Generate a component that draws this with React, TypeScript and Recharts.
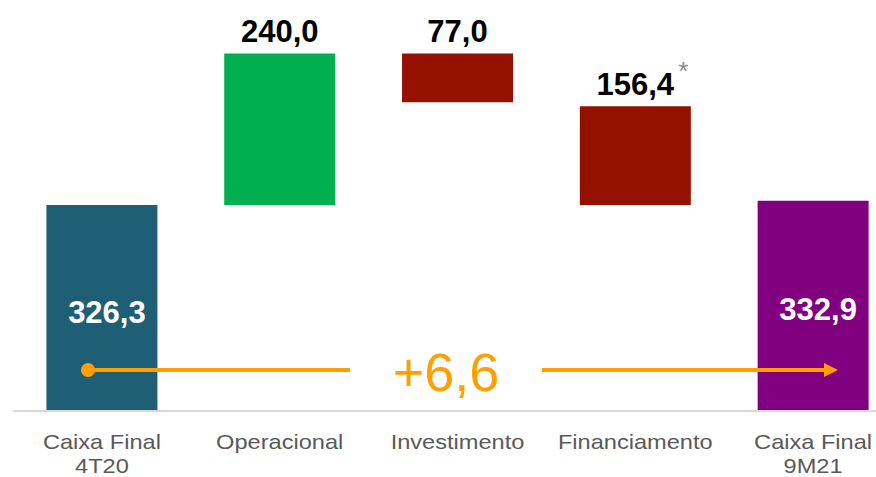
import { BarChart, Bar, XAxis, YAxis, Cell, LabelList } from "recharts";

const categories = ["Caixa Final|4T20", "Operacional", "Investimento", "Financiamento", "Caixa Final|9M21"];
const bases = [0, 326.3, 489.3, 326.3, 0];
const values = [326.3, 240.0, 77.0, 156.4, 332.9];
const colors = ["#1F5F75", "#00B050", "#941100", "#941100", "#800080"];
const insideLabel = [true, false, false, false, true];
const variation = "+6,6";

const data = categories.map((name, i) => ({
  name,
  base: bases[i],
  value: values[i],
}));

const fmt = (v: number) => v.toFixed(1).replace(".", ",");

const CategoryTick = (props: any) => {
  const { x, y, payload } = props;
  const lines = String(payload.value).split("|");
  return (
    <g transform={`translate(${x},${y}) scale(1.18,1)`}>
      {lines.map((l, i) => (
        <text
          key={i}
          x={0}
          y={36 + i * 24}
          textAnchor="middle"
          fill="#595959"
          fontSize={20}
          fontFamily="Liberation Sans, Arial, sans-serif"
        >
          {l}
        </text>
      ))}
    </g>
  );
};

const ValueLabel = (props: any) => {
  const { x, y, width, height, index } = props;
  const txt = fmt(values[index]);
  const inside = insideLabel[index];
  const cx = x + width / 2 + (inside ? 5 : 0);
  const cy = inside ? y + height / 2 + 4 : y - 22;
  return (
    <g>
      <text
        x={cx}
        y={cy}
        textAnchor="middle"
        dominantBaseline="central"
        fill={inside ? "#FFFFFF" : "#000000"}
        fontSize={31}
        fontWeight="bold"
        fontFamily="Liberation Sans, Arial, sans-serif"
      >
        {txt}
      </text>
      {index === 3 && (
        <text
          x={cx + 48}
          y={cy - 13}
          textAnchor="middle"
          dominantBaseline="central"
          fill="#8C8C8C"
          fontSize={26}
          fontFamily="Liberation Sans, Arial, sans-serif"
        >
          *
        </text>
      )}
    </g>
  );
};

export default function App() {
  return (
    <div
      style={{
        position: "absolute",
        left: 0,
        top: 0,
        width: 876,
        height: 477,
        overflow: "hidden",
        background: "#fff",
      }}
    >
      <BarChart
        width={910}
        height={477}
        data={data}
        margin={{ top: 7, right: 8, left: 13, bottom: 26 }}
        barCategoryGap="18.8%"
      >
        <XAxis
          dataKey="name"
          height={40}
          axisLine={{ stroke: "#D9D9D9", strokeWidth: 2 }}
          tickLine={false}
          tickSize={0}
          interval={0}
          tick={<CategoryTick />}
        />
        <YAxis hide domain={[0, 640]} />
        <Bar dataKey="base" stackId="a" fill="transparent" isAnimationActive={false} />
        <Bar dataKey="value" stackId="a" isAnimationActive={false}>
          {data.map((_, i) => (
            <Cell key={i} fill={colors[i]} />
          ))}
          <LabelList dataKey="value" content={<ValueLabel />} />
        </Bar>
      </BarChart>
      <svg
        width={876}
        height={477}
        style={{ position: "absolute", left: 0, top: 0, pointerEvents: "none" }}
      >
        <circle cx={88} cy={370} r={7} fill="#FF9F00" />
        <line x1={88} y1={370} x2={350} y2={370} stroke="#FF9F00" strokeWidth={4} />
        <line x1={542} y1={370} x2={826} y2={370} stroke="#FF9F00" strokeWidth={4} />
        <polygon points="838,370 824,363 824,377" fill="#FF9F00" />
        <text
          x={446}
          y={372}
          textAnchor="middle"
          dominantBaseline="central"
          fill="#FF9F00"
          fontSize={54}
          fontFamily="Liberation Sans, Arial, sans-serif"
        >
          {variation}
        </text>
      </svg>
    </div>
  );
}
